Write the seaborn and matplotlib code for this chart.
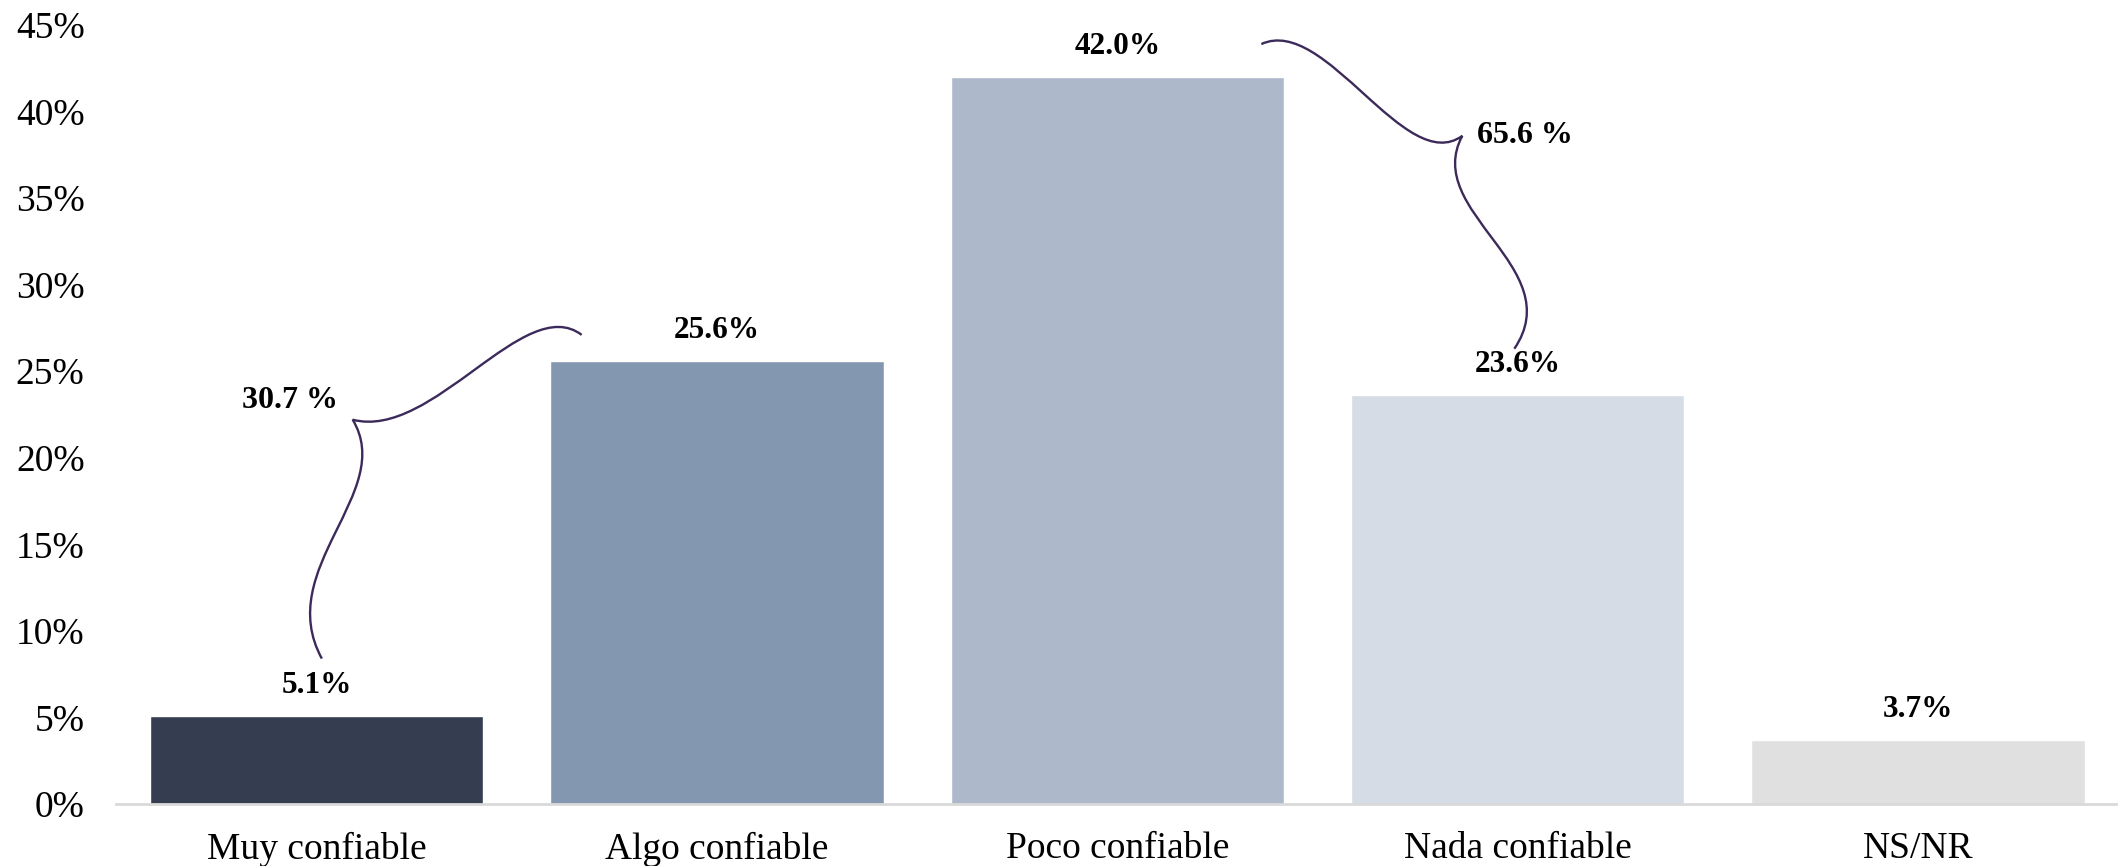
import matplotlib
matplotlib.use("Agg")
import matplotlib.pyplot as plt
from matplotlib.path import Path
from matplotlib.patches import PathPatch
import pandas as pd
import seaborn as sns

# data
categories = ["Muy confiable", "Algo confiable", "Poco confiable", "Nada confiable", "NS/NR"]
values = [5.1, 25.6, 42.0, 23.6, 3.7]
bar_colors = ["#343E50", "#8497B0", "#ADB9CA", "#D6DCE5", "#E0E0E0"]
y_ticks = [0, 5, 10, 15, 20, 25, 30, 35, 40, 45]

# grouped totals shown with braces
group_low = [0, 1]   # Muy + Algo
group_high = [2, 3]  # Poco + Nada

df = pd.DataFrame({"cat": categories, "val": values})

sns.set_style("white")
plt.rcParams["font.family"] = ["Liberation Serif", "DejaVu Serif"]
plt.rcParams["text.color"] = "black"
plt.rcParams["xtick.color"] = "black"
plt.rcParams["ytick.color"] = "black"

fig = plt.figure(figsize=(21.18, 8.66), dpi=100)
ax = fig.add_axes([0.055, 0.0716, 0.945, 0.8995])

sns.barplot(data=df, x="cat", y="val", hue="cat", palette=bar_colors,
            width=0.833, legend=False, ax=ax, saturation=1)

ax.set_ylim(0, 45)
ax.set_xlim(-0.5, 4.5)
ax.set_yticks(y_ticks)
ax.set_yticklabels([f"{t}%" for t in y_ticks])
ax.set_xlabel("")
ax.set_ylabel("")
ax.tick_params(axis="y", length=0, pad=23, labelsize=27)
ax.tick_params(axis="x", length=0, pad=20, labelsize=27)

for side in ["top", "right", "left"]:
    ax.spines[side].set_visible(False)
ax.spines["bottom"].set_color("#D9D9D9")
ax.spines["bottom"].set_linewidth(2)

# value labels
for i, v in enumerate(values):
    ax.annotate(f"{v:.1f}%", (i, v), xytext=(0, 22), textcoords="offset points",
                ha="center", va="center", fontsize=22.5, fontweight="bold")

# curly braces (cubic bezier halves, data coords)
brace_color = "#3B2A5A"

def brace(p_end1, c1, c2, tip, c3, c4, p_end2):
    verts = [p_end1, c1, c2, tip, c3, c4, p_end2]
    codes = [Path.MOVETO, Path.CURVE4, Path.CURVE4, Path.CURVE4,
             Path.CURVE4, Path.CURVE4, Path.CURVE4]
    patch = PathPatch(Path(verts, codes), fill=False, edgecolor=brace_color,
                      lw=1.7, clip_on=False)
    ax.add_patch(patch)

brace((0.013, 8.4), (-0.11, 13.6), (0.20, 18.0), (0.09, 22.2),
      (0.29, 21.0), (0.52, 29.6), (0.662, 27.1))
brace((2.36, 43.9), (2.52, 45.6), (2.72, 36.2), (2.862, 38.6),
      (2.76, 34.2), (3.13, 31.0), (2.992, 26.3))

total_low = sum(values[i] for i in group_low)
total_high = sum(values[i] for i in group_high)
ax.text(-0.067, 23.3, f"{total_low:.1f} %", ha="center", va="center",
        fontsize=23, fontweight="bold")
ax.text(3.019, 38.6, f"{total_high:.1f} %", ha="center", va="center",
        fontsize=23, fontweight="bold")

fig.savefig("out.png", dpi=100)
